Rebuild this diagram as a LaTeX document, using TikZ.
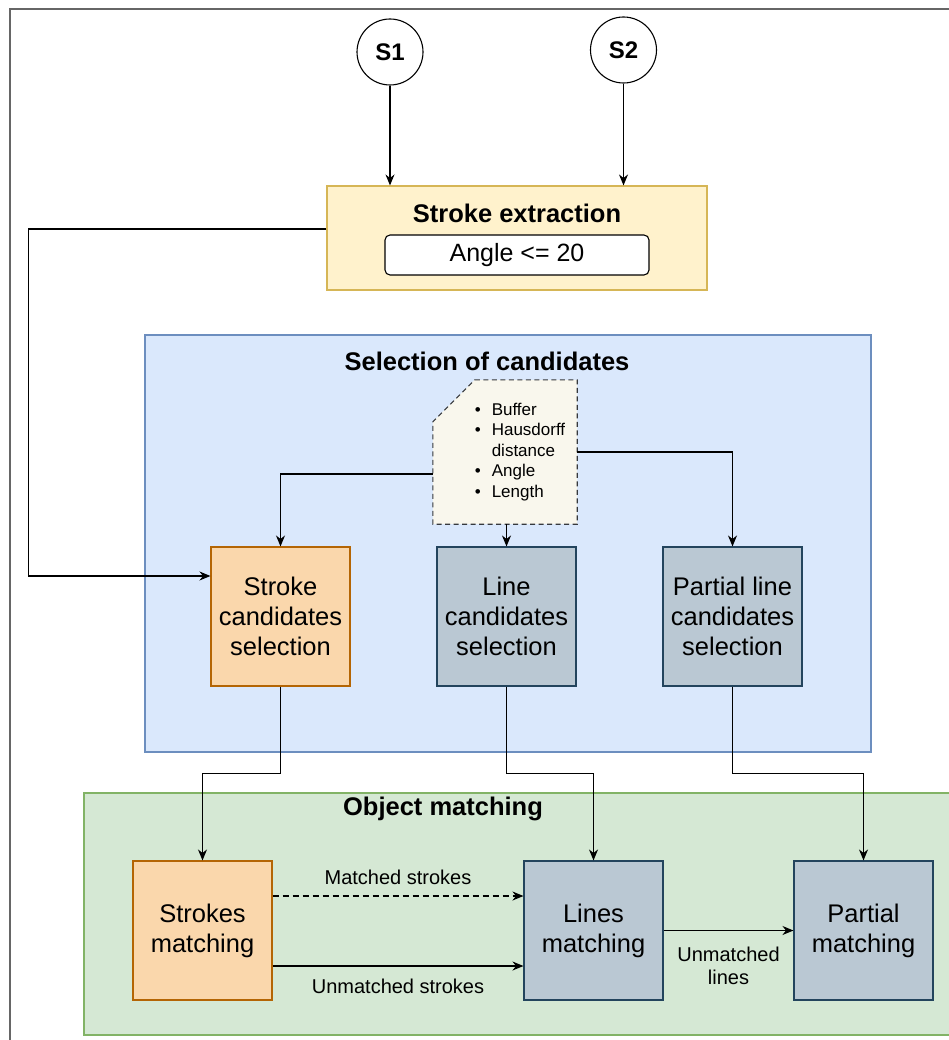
\documentclass[tikz,border=0pt]{standalone}
\usepackage{fontspec}
\setmainfont{Liberation Sans}
\usetikzlibrary{arrows.meta,positioning,calc}
\definecolor{exfill}{HTML}{FFF2CC}
\definecolor{exline}{HTML}{D6B656}
\definecolor{selfill}{HTML}{DAE8FC}
\definecolor{selline}{HTML}{6C8EBF}
\definecolor{matfill}{HTML}{D5E8D4}
\definecolor{matline}{HTML}{82B366}
\definecolor{strfill}{HTML}{FAD7AC}
\definecolor{strline}{HTML}{B46504}
\definecolor{linfill}{HTML}{BAC8D3}
\definecolor{linline}{HTML}{23445D}
\definecolor{notefill}{HTML}{F9F7ED}
\definecolor{noteline}{HTML}{36393D}
\definecolor{framegray}{HTML}{666666}

\begin{document}
\begin{tikzpicture}[x=1pt,y=-1pt,
  flow/.style={-{Stealth[length=11pt,width=9pt]},line width=1.2pt},
  stepbox/.style={draw,line width=1.1pt,minimum width=139pt,minimum height=139pt,
    align=center,font=\fontsize{25.5}{30}\selectfont},
  groupbox/.style={draw,line width=1.1pt,inner sep=0pt},
  grouptitle/.style={font=\fontsize{25.5}{30}\selectfont\bfseries},
  edgelabel/.style={font=\fontsize{20}{23}\selectfont,align=center}]

  \useasboundingbox (0,0) rectangle (949,1040);
  \clip (0,0) rectangle (949,1040);

  % ---- Outer frame -------------------------------------------
  \draw[framegray,line width=1.8pt] (10,1050) -- (10,9) -- (960,9);

  % ---- Containers --------------------------------------------
  \node[groupbox,fill=selfill,draw=selline,minimum width=726pt,minimum height=417pt]
    (select) at (508,543.5) {};
  \node[grouptitle] (selecttitle) at (487,361) {Selection of candidates};

  \node[groupbox,fill=matfill,draw=matline,minimum width=876pt,minimum height=242pt]
    (match) at (522,914) {};
  \node[grouptitle] (matchtitle) at (443,808.5) {Object matching};

  % ---- Sources -----------------------------------------------
  \node[draw,circle,line width=1.1pt,fill=white,minimum size=66pt,
    font=\fontsize{24}{28}\selectfont\bfseries] (s1) at (390,52) {S1};
  \node[draw,circle,line width=1.1pt,fill=white,minimum size=66pt,
    font=\fontsize{24}{28}\selectfont\bfseries] (s2) at (623.5,50) {S2};

  % ---- Stroke extraction -------------------------------------
  \node[groupbox,fill=exfill,draw=exline,minimum width=380pt,minimum height=104pt]
    (extr) at (517,238) {};
  \node[grouptitle] (extrtitle) at (517,213) {Stroke extraction};
  \node[draw,fill=white,rounded corners=5pt,line width=1.1pt,minimum width=264pt,
    minimum height=40pt,font=\fontsize{25}{30}\selectfont] (angle) at (517,255)
    {Angle <= 20};

  % ---- Criteria note -----------------------------------------
  \node[minimum width=144pt,minimum height=144pt,inner sep=0pt] (crit) at (505,452) {};
  \draw[noteline,fill=notefill,line width=1.1pt,dash pattern=on 5pt off 3.5pt]
    ($(crit.north west)+(42,0)$) -- (crit.north east) -- (crit.south east)
    -- (crit.south west) -- ($(crit.north west)+(0,42)$) -- cycle;
  \node[inner sep=0pt,font=\fontsize{17}{20.5}\selectfont] (critlist)
    at ([xshift=15pt]crit.center)
    {\begin{tabular}{@{}l@{\hspace{11pt}}l@{}}
      • & Buffer\\
      • & Hausdorff\\
        & distance\\
      • & Angle\\
      • & Length
    \end{tabular}};

  % ---- Candidate selection -----------------------------------
  \node[stepbox,fill=strfill,draw=strline] (scand) at (280.5,616.5)
    {Stroke\\candidates\\selection};
  \node[stepbox,fill=linfill,draw=linline] (lcand) at (506.5,616.5)
    {Line\\candidates\\selection};
  \node[stepbox,fill=linfill,draw=linline] (pcand) at (732.5,616.5)
    {Partial line\\candidates\\selection};

  % ---- Matching ----------------------------------------------
  \node[stepbox,fill=strfill,draw=strline] (smatch) at (202.5,930.5)
    {Strokes\\matching};
  \node[stepbox,fill=linfill,draw=linline] (lmatch) at (593.5,930.5)
    {Lines\\matching};
  \node[stepbox,fill=linfill,draw=linline] (pmatch) at (863.5,930.5)
    {Partial\\matching};

  % ---- Connectors --------------------------------------------
  \draw[flow] (s1) -- (s1 |- extr.north);
  \draw[flow] (s2) -- (s2 |- extr.north);
  \draw[flow] ([yshift=9pt]extr.west) -- ++(-298,0) |- ([yshift=40.5pt]scand.west);

  \draw[flow] ([yshift=-22pt]crit.west) -| (scand.north);
  \draw[flow] (crit.south -| lcand.north) -- (lcand.north);
  \draw[flow] (crit.east) -| (pcand.north);

  \draw[flow] (scand.south) -- ++(0,87) -| (smatch.north);
  \draw[flow] (lcand.south) -- ++(0,87) -| (lmatch.north);
  \draw[flow] (pcand.south) -- ++(0,87) -| (pmatch.north);

  \draw[flow,dash pattern=on 6pt off 4pt] ([yshift=34.5pt]smatch.east)
    -- ([yshift=34.5pt]smatch.east -| lmatch.west)
    node[midway,above=7pt,edgelabel] {Matched strokes};
  \draw[flow] ([yshift=-35.5pt]smatch.east) -- ([yshift=-35.5pt]smatch.east -| lmatch.west)
    node[midway,below=9pt,edgelabel] {Unmatched strokes};
  \draw[flow] (lmatch.east) -- (pmatch.west)
    node[midway,below=13pt,edgelabel] {Unmatched\\lines};

\end{tikzpicture}
\end{document}
